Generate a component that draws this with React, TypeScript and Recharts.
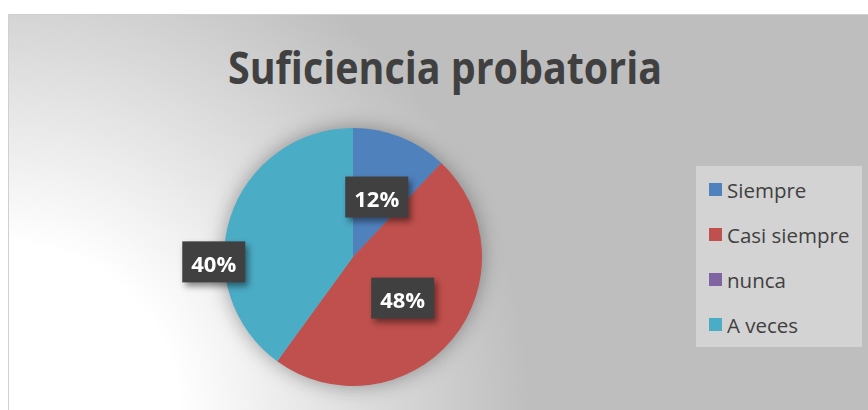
import React from 'react';
import { PieChart, Pie, Cell, Legend } from 'recharts';

const categories = ['Siempre', 'Casi siempre', 'nunca', 'A veces'];
const shares = [12, 48, 0, 40];
const colors = ['#4F81BD', '#C0504D', '#8064A2', '#4BACC6'];

const data = categories.map((name, i) => ({ name, value: shares[i] }));

const RAD = Math.PI / 180;
// the "A veces" label sits outside the pie on the left, the others halfway in
const labelTweak: Record<string, { r: number; a: number }> = {
  'A veces': { r: 1.08, a: 20 },
};

const renderLabel = (props: any) => {
  const { cx, cy, midAngle, outerRadius, percent, value } = props;
  if (!value) return null;
  const name = props.payload?.name ?? props.name;
  const t = labelTweak[name] || { r: 0.5, a: 0 };
  const ang = (midAngle + t.a) * RAD;
  const x = cx + outerRadius * t.r * Math.cos(ang);
  const y = cy - outerRadius * t.r * Math.sin(ang);
  const w = 63;
  const h = 41;
  return (
    <g style={{ filter: 'drop-shadow(3px 4px 3px rgba(0,0,0,0.45))' }}>
      <rect x={x - w / 2} y={y - h / 2} width={w} height={h} fill="#404040" />
      <text
        x={x}
        y={y + 10}
        textAnchor="middle"
        fill="#ffffff"
        fontFamily="'Open Sans', sans-serif"
        fontWeight={700}
        fontSize={22}
      >
        {Math.round(percent * 100)}%
      </text>
    </g>
  );
};

const renderLegend = () => (
  <div
    style={{
      width: 166,
      height: 181,
      background: '#d3d3d3',
      boxSizing: 'border-box',
      paddingTop: 1,
      paddingLeft: 13,
    }}
  >
    {categories.map((c, i) => (
      <div key={c} style={{ height: 45, display: 'flex', alignItems: 'center' }}>
        <span style={{ width: 13, height: 13, background: colors[i], display: 'inline-block' }} />
        <span
          style={{
            marginLeft: 5,
            fontFamily: "'Open Sans', sans-serif",
            fontSize: 20.5,
            color: '#404040',
            lineHeight: '20px',
          }}
        >
          {c}
        </span>
      </div>
    ))}
  </div>
);

export default function App() {
  return (
    <div style={{ position: 'absolute', left: 0, top: 0, width: 868, height: 410, overflow: 'hidden', background: '#fff' }}>
      <style>{`.pie-wrap .recharts-pie { filter: drop-shadow(0 0 10px rgba(0,0,0,0.35)); }`}</style>
      <div
        style={{
          position: 'absolute',
          left: 8,
          top: 14,
          width: 870,
          height: 400,
          border: '1px solid #d0d0d0',
          background: 'radial-gradient(circle at 0% 100%, #ffffff 0px, #ffffff 170px, #bebebe 520px)',
        }}
      />
      <svg style={{ position: 'absolute', left: 0, top: 0 }} width={868} height={120}>
        <text
          x={228}
          y={84}
          textLength={434}
          lengthAdjust="spacingAndGlyphs"
          fontFamily="'Open Sans', sans-serif"
          fontWeight={700}
          fontSize={44}
          fill="#404040"
        >
          Suficiencia probatoria
        </text>
      </svg>
      <div className="pie-wrap" style={{ position: 'absolute', left: 0, top: 0 }}>
        <PieChart width={868} height={410} margin={{ top: 0, right: 0, bottom: 0, left: 0 }}>
          <Pie
            data={data}
            dataKey="value"
            nameKey="name"
            cx={353}
            cy={257}
            outerRadius={129}
            startAngle={90}
            endAngle={-270}
            stroke="none"
            label={renderLabel}
            labelLine={false}
            isAnimationActive={false}
          >
            {data.map((d, i) => (
              <Cell key={d.name} fill={colors[i]} />
            ))}
          </Pie>
          <Legend
            layout="vertical"
            align="right"
            verticalAlign="middle"
            content={renderLegend}
            wrapperStyle={{ left: 696, top: 166, width: 166, height: 181 }}
          />
        </PieChart>
      </div>
    </div>
  );
}
